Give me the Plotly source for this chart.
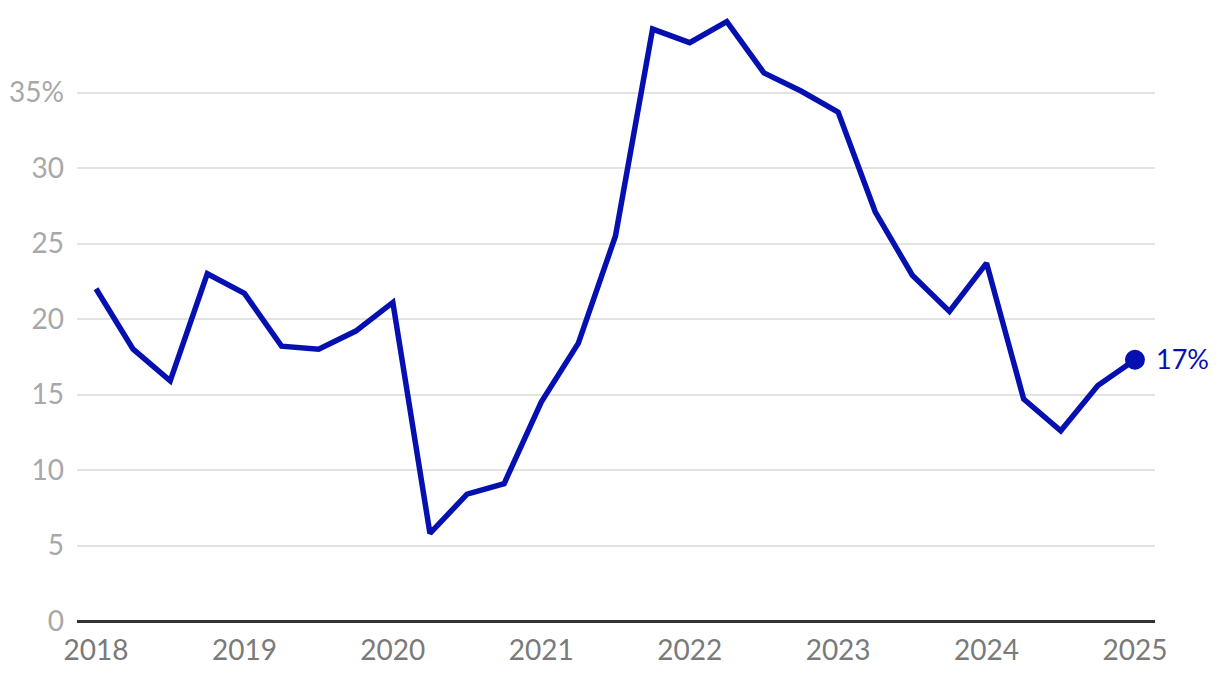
import plotly.graph_objects as go

years = [2018 + i * 0.25 for i in range(29)]
values = [22.0, 18.0, 15.9, 23.0, 21.7, 18.2, 18.0, 19.2, 21.1, 5.8, 8.4, 9.1,
          14.5, 18.4, 25.5, 39.2, 38.3, 39.7, 36.3, 35.1, 33.7, 27.1, 22.9, 20.5,
          23.7, 14.7, 12.6, 15.6, 17.3]
x_ticks = [2018, 2019, 2020, 2021, 2022, 2023, 2024, 2025]
y_ticks = [0, 5, 10, 15, 20, 25, 30, 35]
y_tick_labels = ["0", "5", "10", "15", "20", "25", "30", "35%"]
end_label = "17%"

BLUE = "#0610b0"

fig = go.Figure()
fig.add_trace(go.Scatter(x=years, y=values, mode="lines",
                         line=dict(color=BLUE, width=5.5), hoverinfo="skip"))
fig.add_trace(go.Scatter(x=[years[-1]], y=[values[-1]], mode="markers",
                         marker=dict(color=BLUE, size=20),
                         cliponaxis=False, hoverinfo="skip"))
fig.add_annotation(x=years[-1], y=values[-1], text=end_label, showarrow=False,
                   xanchor="left", yanchor="middle", xshift=19, yshift=1,
                   font=dict(family="Lato", size=27, color=BLUE))

fig.update_layout(
    width=1212, height=670,
    margin=dict(l=69, r=65, t=9, b=57, autoexpand=False),
    paper_bgcolor="white", plot_bgcolor="white",
    showlegend=False,
    font=dict(family="Lato"),
    xaxis=dict(range=[2018 - 0.128, 2025 + 0.135], tickvals=x_ticks,
               ticktext=[str(t) for t in x_ticks], automargin=False,
               showgrid=False, zeroline=False, showline=False,
               tickfont=dict(family="Lato", size=28, color="#7a7a7a"),
               ticks="", ticklabelstandoff=10),
    yaxis=dict(range=[0, 40], tickvals=y_ticks, ticktext=y_tick_labels,
               automargin=False,
               showgrid=True, gridcolor="#e3e3e3", gridwidth=1.5,
               zeroline=True, zerolinecolor="#333333", zerolinewidth=2.5,
               showline=False, ticks="",
               tickfont=dict(family="Lato", size=28, color="#a8a8a8"),
               ticklabelstandoff=12),
)

fig.write_html("out.html")
